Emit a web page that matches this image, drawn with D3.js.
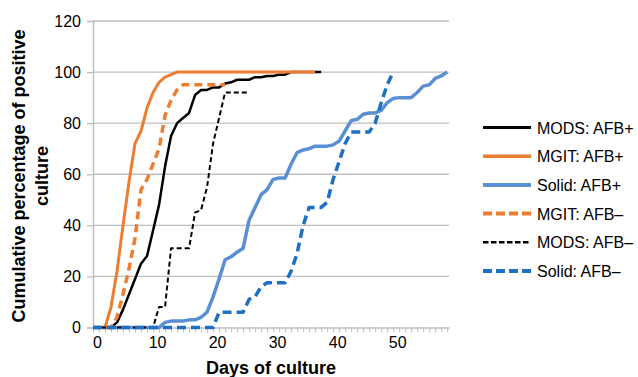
<!DOCTYPE html>
<html>
<head>
<meta charset="utf-8">
<script src="https://cdn.jsdelivr.net/npm/d3@7"></script>
<style>
  body { margin: 0; background: #fff; }
  text { font-family: Arial, "Liberation Sans", sans-serif; }
</style>
</head>
<body>
<div id="chart"></div>
<script>
// Days of culture (category axis)
var days = [0,1,2,3,4,5,6,7,8,9,10,11,12,13,14,15,16,17,18,19,20,21,22,23,24,25,26,27,28,29,
            30,31,32,33,34,35,36,37,38,39,40,41,42,43,44,45,46,47,48,49,50,51,52,53,54,55,56,57,58,59];

// Cumulative % positive, one value per day starting at day 0
var modsPos  = [0,0,0,0,2,7,13,19,25,28, 38,48,63,75,80,82,84,91,93,93, 94,94,95.5,96,97,97,97,98,98,98.5, 98.5,99,99,100,100,100,100,100,100];
var mgitPos  = [0,0,0,8,22,40,57,72,77,86, 92,96,98,99,100,100,100,100,100,100, 100,100,100,100,100,100,100,100,100,100, 100,100,100,100,100,100,100,100];
var solidPos = [0,0,0,0,0,0,0,0,0,0, 0,0,2,2.5,2.5,2.5,3,3,4,6, 12,19,26.5,27.7,29.5,31,42,47,52,54,
                58,58.5,58.5,64,68.5,69.5,70,71,71,71, 71.5,73,77,81,81.5,83.5,84,84,85,88,
                89.7,90,90,90,92,94.5,95,97.5,98.5,100];
var mgitNeg  = [0,0,0,0,4,13,23,35,54,58, 64,70,83,89,93,95,95,95,95,95, 95,95,95];
var modsNeg  = [0,0,0,0,0,0,0,0,0,0, 0,8,8,31,31,31,31,45,46,55, 72,82,92,92,92,92,92];
var solidNeg = [0,0,0,0,0,0,0,0,0,0, 0,0,0,0,0,0,0,0,0,0, 0,6,6,6,6,6,11,12,16,17.5,
                17.5,17.5,17.5,22,29,40,47,47,47,49, 58,65,72,76.5,76.5,76.5,76.5,80,88,95, 100];

var yTicks = [0, 20, 40, 60, 80, 100, 120];
var xLabels = [0, 10, 20, 30, 40, 50];

var series = [
    { name: "MODS: AFB+",  values: modsPos,  color: "#000000", width: 2.5, dash: null,  legendDash: null },
    { name: "MGIT: AFB+",  values: mgitPos,  color: "#ED7D31", width: 3,   dash: null,  legendDash: null },
    { name: "Solid: AFB+", values: solidPos, color: "#5B8FD3", width: 3.5, dash: null,  legendDash: null },
    { name: "MGIT: AFB\u2013",  values: mgitNeg,  color: "#ED7D31", width: 3.5, dash: "8,5", legendDash: "9,4" },
    { name: "MODS: AFB\u2013",  values: modsNeg,  color: "#000000", width: 2,   dash: "5,3", legendDash: "5.5,2.5" },
    { name: "Solid: AFB\u2013", values: solidNeg, color: "#1F6FC2", width: 3.5, dash: "9,5", legendDash: "9,4" }
];

var width = 638, height = 377;
var svg = d3.select("#chart").append("svg")
    .attr("width", width)
    .attr("height", height);

// Scales
var x = d3.scaleLinear().domain([0, 59.3]).range([93, 449]);
var y = d3.scaleLinear().domain([0, 120]).range([327.5, 21]);

// Gridlines
svg.append("g")
    .selectAll("line")
    .data(yTicks.filter(function(d) { return d > 0; }))
    .enter().append("line")
    .attr("x1", x(0)).attr("x2", x(59.3))
    .attr("y1", function(d) { return y(d); })
    .attr("y2", function(d) { return y(d); })
    .style("stroke", "#BFBFBF")
    .style("stroke-width", 1.3);

// Y axis
var yAxis = svg.append("g")
    .attr("transform", "translate(" + x(0) + ",0)")
    .call(d3.axisLeft(y).tickValues(yTicks).tickSize(6).tickPadding(6));
yAxis.select(".domain").style("stroke", "#BFBFBF").style("stroke-width", 1.5);
yAxis.selectAll(".tick line").style("stroke", "#BFBFBF").style("stroke-width", 1.3);
yAxis.selectAll(".tick text")
    .style("font-size", "16px").style("fill", "#000");

// X axis: a small tick for every day, labels every 10 days
var xAxis = svg.append("g")
    .attr("transform", "translate(0," + y(0) + ")")
    .call(d3.axisBottom(x).tickValues(days).tickSize(5).tickSizeOuter(0)
        .tickFormat(function(d) { return xLabels.indexOf(d) >= 0 ? d : ""; }));
xAxis.select(".domain").style("stroke", "#BFBFBF").style("stroke-width", 1.5);
xAxis.selectAll(".tick line").style("stroke", "#BFBFBF").style("stroke-width", 1);
xAxis.selectAll(".tick text")
    .attr("dx", 4)
    .attr("y", 9)
    .style("font-size", "16px").style("fill", "#000");

// Axis titles
svg.append("text")
    .attr("x", 271)
    .attr("y", 374)
    .attr("text-anchor", "middle")
    .style("font-size", "18px").style("font-weight", "bold")
    .text("Days of culture");

var yTitle = svg.append("text")
    .attr("transform", "translate(25,176) rotate(-90)")
    .attr("text-anchor", "middle")
    .style("font-size", "18px").style("font-weight", "bold");
yTitle.append("tspan").attr("x", 0).attr("y", 0).text("Cumulative percentage of positive");
yTitle.append("tspan").attr("x", 0).attr("y", 23).text("culture");

// Lines
var line = d3.line()
    .x(function(d, i) { return x(days[i]); })
    .y(function(d) { return y(d); });

svg.append("g")
    .selectAll("path")
    .data(series)
    .enter().append("path")
    .attr("d", function(d) { return line(d.values); })
    .style("fill", "none")
    .style("stroke", function(d) { return d.color; })
    .style("stroke-width", function(d) { return d.width; })
    .style("stroke-dasharray", function(d) { return d.dash; })
    .style("stroke-linejoin", "round");

// Legend
var legend = svg.selectAll(".legend")
    .data(series)
    .enter().append("g")
    .attr("class", "legend")
    .attr("transform", function(d, i) { return "translate(483," + (127.5 + i * 28.7) + ")"; });

legend.append("line")
    .attr("x1", 0).attr("x2", 48)
    .style("stroke", function(d) { return d.color; })
    .style("stroke-width", function(d) { return d.width + 0.5; })
    .style("stroke-dasharray", function(d) { return d.legendDash; });

legend.append("text")
    .attr("x", 54)
    .attr("y", 6)
    .style("font-size", "16px")
    .text(function(d) { return d.name; });
</script>
</body>
</html>
